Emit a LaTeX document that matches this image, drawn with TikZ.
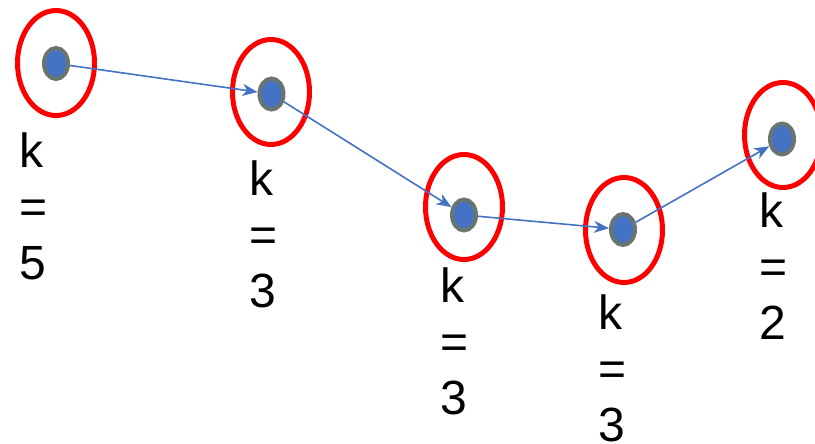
\documentclass[tikz,border=0pt]{standalone}
\usepackage{fontspec}
\setmainfont{Liberation Sans}
\usetikzlibrary{arrows.meta,shapes.geometric}
\definecolor{ringred}{HTML}{FF0000}
\definecolor{dotblue}{HTML}{4472C4}
\definecolor{dotgray}{HTML}{6B7570}

\begin{document}
\begin{tikzpicture}[x=1pt,y=-1pt,ring/.style={ellipse,draw=ringred,line width=5pt,minimum width=77pt,minimum height=105pt,inner sep=0pt},vertex/.style={ellipse,draw=dotgray,fill=dotblue,line width=4pt,minimum width=24pt,minimum height=31pt,inner sep=0pt},hop/.style={draw=dotblue,line width=1.6pt,-{Stealth[length=15pt,width=12pt,inset=4.5pt]}},klabel/.style={anchor=north west,inner sep=0pt,align=left,font=\fontsize{48}{56}\selectfont}]
\useasboundingbox (0,0) rectangle (815,444);
\node[ring] (e1) at (56,63) {};
\node[ring] (e2) at (271,92) {};
\node[ring] (e3) at (464,207) {};
\node[ring] (e4) at (624,230) {};
\node[ring] (e5) at (783,135) {};
\node[vertex] (d1) at (56,63.5) {};
\node[vertex] (d2) at (271.5,94) {};
\node[vertex] (d3) at (464,215) {};
\node[vertex] (d4) at (623,229.5) {};
\node[vertex] (d5) at (782,139) {};
\draw[hop] (d1) -- (d2);
\draw[hop] (d2) -- (d3);
\draw[hop] (d3) -- (d4);
\draw[hop] (d4) -- (d5);
\node[klabel] (k1) at (19,133) {k\\=\\5};
\node[klabel] (k2) at (249,161) {k\\=\\3};
\node[klabel] (k3) at (440,268) {k\\=\\3};
\node[klabel] (k4) at (598,295) {k\\=\\3};
\node[klabel] (k5) at (759,193) {k\\=\\2};
\end{tikzpicture}
\end{document}
